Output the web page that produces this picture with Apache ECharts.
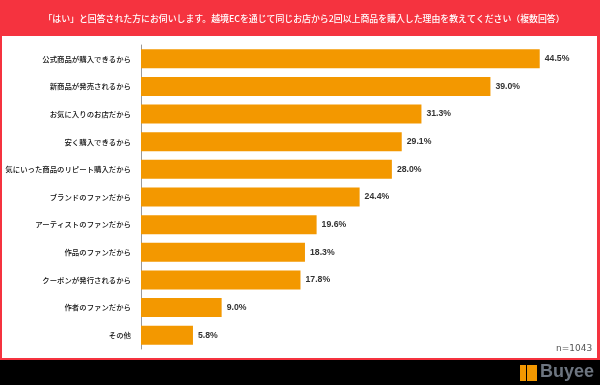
<!DOCTYPE html>
<html>
<head>
<meta charset="utf-8">
<style>html,body{margin:0;padding:0;background:#000}</style>
<script src="https://cdn.jsdelivr.net/npm/echarts@6/dist/echarts.min.js"></script>
</head>
<body>
<div id="main" style="width:600px;height:385px"></div>
<script>
var categories = ['公式商品が購入できるから', '新商品が発売されるから', 'お気に入りのお店だから', '安く購入できるから', '気にいった商品のリピート購入だから', 'ブランドのファンだから', 'アーティストのファンだから', '作品のファンだから', 'クーポンが発行されるから', '作者のファンだから', 'その他']
var values = [44.5, 39.0, 31.3, 29.1, 28.0, 24.4, 19.6, 18.3, 17.8, 9.0, 5.8]
var titleText = '「はい」と回答された方にお伺いします。越境ECを通じて同じお店から2回以上商品を購入した理由を教えてください（複数回答）'
var font = '"Noto Sans CJK JP", sans-serif'

var myChart = echarts.init(document.getElementById('main'))
myChart.setOption({
  backgroundColor: '#000',
  animation: false,
  title: {
    text: titleText,
    left: 299,
    top: 9,
    textAlign: 'center',
    textStyle: { color: '#fff', fontSize: 8.9, fontWeight: 500, fontFamily: font }
  },
  grid: { left: 141, top: 45, width: 448, height: 304, outerBoundsMode: 'none' },
  xAxis: { type: 'value', min: 0, max: 50, show: false },
  yAxis: {
    type: 'category',
    inverse: true,
    data: categories,
    axisTick: { show: false },
    axisLine: { lineStyle: { color: '#999', width: 1 } },
    axisLabel: { color: '#111', fontSize: 7.4, margin: 10, fontWeight: 500, fontFamily: font }
  },
  series: [{
    type: 'bar',
    data: values,
    barWidth: 19,
    itemStyle: { color: '#f39800' },
    label: {
      show: true,
      position: 'right',
      distance: 5,
      color: '#333',
      fontSize: 8.7,
      fontWeight: 'bold',
      fontFamily: 'Liberation Sans, sans-serif',
      formatter: function (p) { return p.value.toFixed(1) + '%' }
    }
  }],
  graphic: [
    { type: 'rect', z: -1, shape: { x: 0, y: 0, width: 600, height: 360 }, style: { fill: '#f5333f' } },
    { type: 'rect', z: -1, shape: { x: 2, y: 36, width: 595, height: 322 }, style: { fill: '#fff' } },
    { type: 'text', x: 556, y: 344, style: { text: 'n=1043', fill: '#555', font: '9px "DejaVu Sans", sans-serif' } },
    { type: 'rect', shape: { x: 520, y: 365, width: 17, height: 16 }, style: { fill: '#f39800' } },
    { type: 'rect', shape: { x: 526, y: 365, width: 1, height: 16 }, style: { fill: '#000' } },
    { type: 'text', x: 540, y: 363, style: { text: 'Buyee', fill: '#6d7580', font: 'bold 18px "Liberation Sans", sans-serif' } }
  ]
})
</script>
</body>
</html>
